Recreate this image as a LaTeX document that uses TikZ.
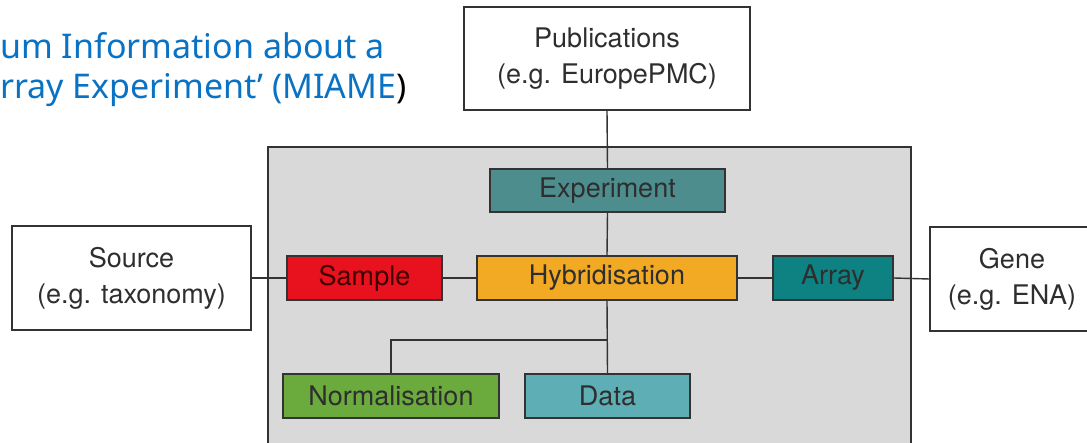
\documentclass[tikz,border=0pt]{standalone}
\usepackage{fontspec}
\setmainfont{TeX Gyre Heros}
\newfontfamily\titlefont{Noto Sans}
\definecolor{bgray}{HTML}{D9D9D9}
\definecolor{edge}{HTML}{333333}
\definecolor{labeltxt}{HTML}{2E2E2E}
\definecolor{expc}{HTML}{4E8D8E}
\definecolor{samplec}{HTML}{E8121F}
\definecolor{hybc}{HTML}{F2AA24}
\definecolor{arrayc}{HTML}{0E8282}
\definecolor{normc}{HTML}{6BAA3D}
\definecolor{datac}{HTML}{5EAFB5}
\definecolor{titleblue}{HTML}{0A72C4}
\begin{document}
\begin{tikzpicture}[x=1pt,y=-1pt,
  box/.style={draw=edge, line width=1.4pt, rectangle, inner sep=0pt, anchor=center,
    text=labeltxt, font=\fontsize{27}{36}\selectfont, align=center},
  outerbox/.style={box, fill=white},
  link/.style={draw=edge, line width=1.4pt},
  titletxt/.style={anchor=base west, inner sep=0pt, font=\titlefont\fontsize{34}{40}\selectfont, text=titleblue}]
\useasboundingbox (0,0) rectangle (1087,443);
\clip (0,0) rectangle (1087,443);
\fill[white] (0,0) rectangle (1087,443);
% gray area
\draw[fill=bgray, draw=edge, line width=1.4pt] (268,147) rectangle (911,470);
% title
\node[titletxt] (t1) at (0,59) {um Information about a};
\node[titletxt] (t2) at (0,99) {rray Experiment’ (MIAME\textcolor{black}{)}};
% outer boxes
\node[outerbox, minimum width=286pt, minimum height=103pt] (pub) at (607,58.5) {Publications\\(e.g. EuropePMC)};
\node[outerbox, minimum width=239pt, minimum height=104pt] (source) at (131.5,278) {Source\\(e.g. taxonomy)};
\node[outerbox, minimum width=164pt, minimum height=104pt] (gene) at (1012,279) {Gene\\(e.g. ENA)};
% inner boxes
\node[box, fill=expc, minimum width=235pt, minimum height=43pt] (exp) at (607.5,190.5) {Experiment};
\node[box, fill=samplec, minimum width=155pt, minimum height=44pt, text=black!75!red] (sample) at (364.5,278) {Sample};
\node[box, fill=hybc, minimum width=260pt, minimum height=44pt] (hyb) at (607,278) {Hybridisation};
\node[box, fill=arrayc, minimum width=120pt, minimum height=44pt] (array) at (833,278) {Array};
\node[box, fill=normc, minimum width=216pt, minimum height=44pt] (norm) at (391,396) {Normalisation};
\node[box, fill=datac, minimum width=165pt, minimum height=44pt] (data) at (607.5,396) {Data};
\coordinate (junc) at (607.5,340);
% connectors
\draw[link] (pub.south) -- (exp.north);
\draw[link] (exp.south) -- (hyb.north);
\draw[link] (source.east) -- (sample.west);
\draw[link] (sample.east) -- (hyb.west);
\draw[link] (hyb.east) -- (array.west);
\draw[link] (array.east) -- (gene.west);
\draw[link] (hyb.south) -- (data.north);
\draw[link] (junc) -| (norm.north);
\end{tikzpicture}
\end{document}
